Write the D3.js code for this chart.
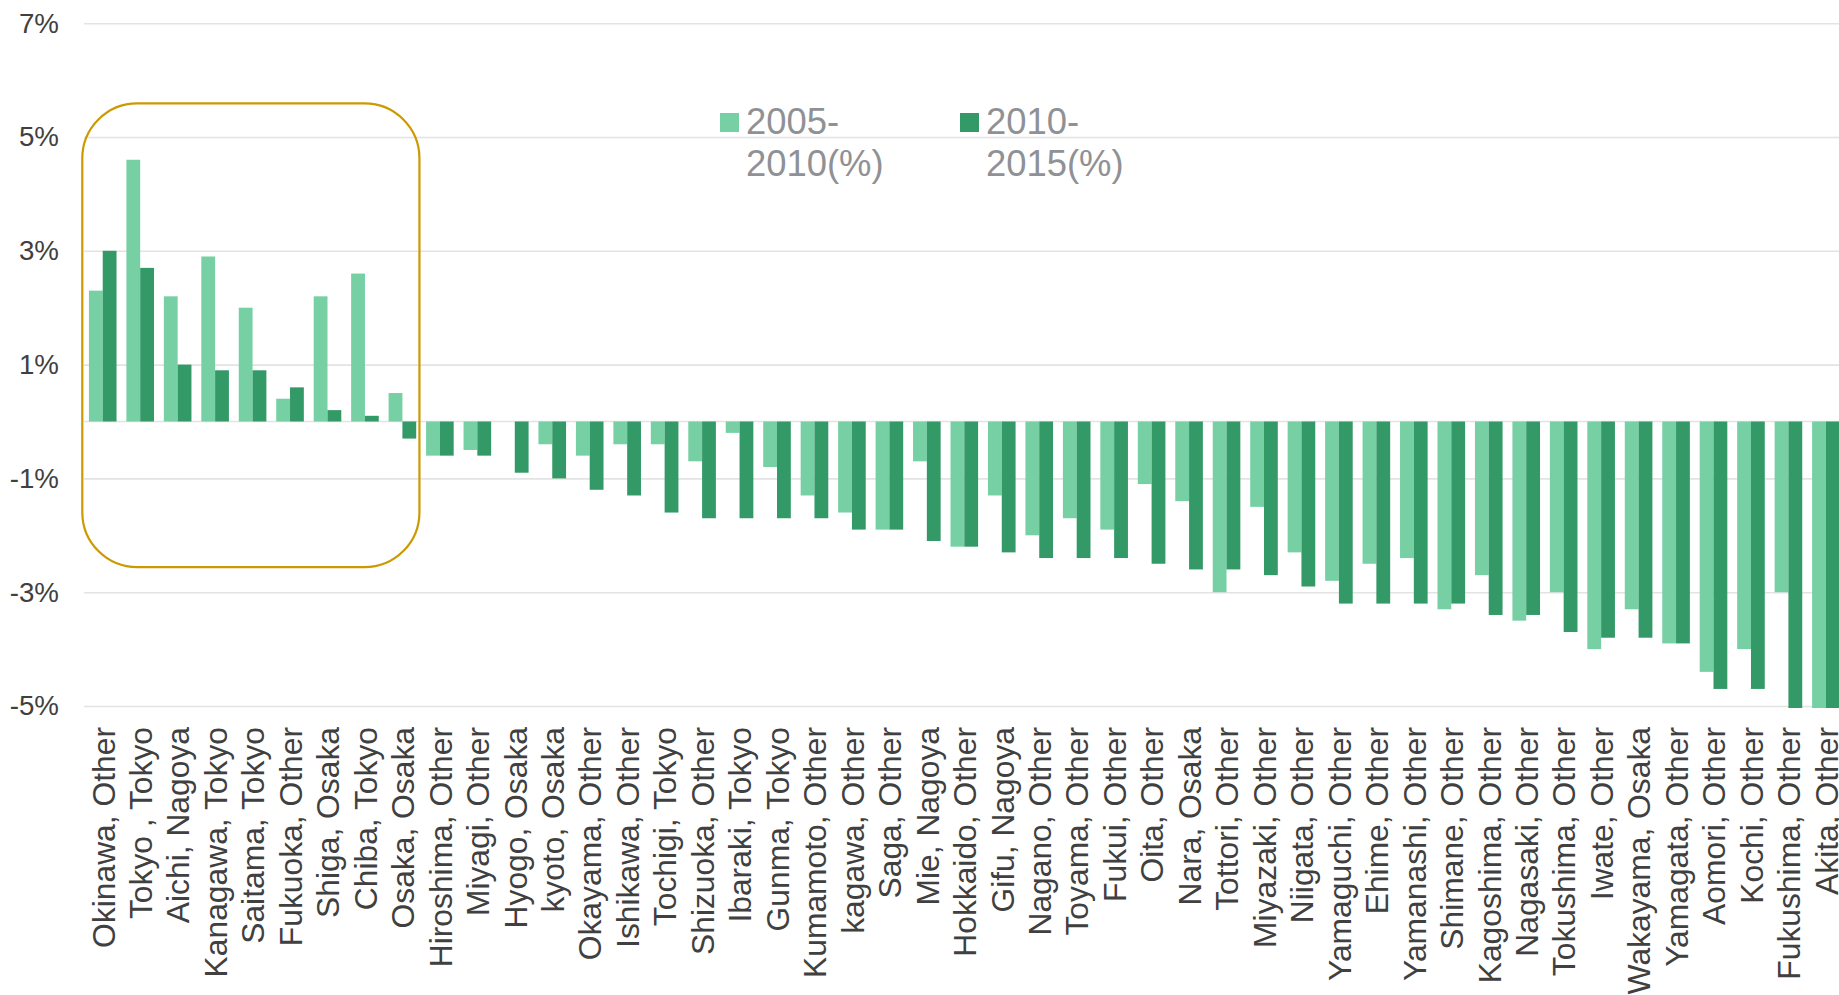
<!DOCTYPE html>
<html>
<head>
<meta charset="utf-8">
<script src="https://cdn.jsdelivr.net/npm/d3@7"></script>
<style>
  body { margin: 0; background: #fff; }
  svg { display: block; font-family: "Liberation Sans", Arial, sans-serif; }
</style>
</head>
<body>
<script>
var categories = ["Okinawa, Other", "Tokyo , Tokyo", "Aichi, Nagoya", "Kanagawa, Tokyo", "Saitama, Tokyo",
  "Fukuoka, Other", "Shiga, Osaka", "Chiba, Tokyo", "Osaka, Osaka", "Hiroshima, Other", "Miyagi, Other",
  "Hyogo, Osaka", "kyoto, Osaka", "Okayama, Other", "Ishikawa, Other", "Tochigi, Tokyo", "Shizuoka, Other",
  "Ibaraki, Tokyo", "Gunma, Tokyo", "Kumamoto, Other", "kagawa, Other", "Saga, Other", "Mie, Nagoya",
  "Hokkaido, Other", "Gifu, Nagoya", "Nagano, Other", "Toyama, Other", "Fukui, Other", "Oita, Other",
  "Nara, Osaka", "Tottori, Other", "Miyazaki, Other", "Niigata, Other", "Yamaguchi, Other", "Ehime, Other",
  "Yamanashi, Other", "Shimane, Other", "Kagoshima, Other", "Nagasaki, Other", "Tokushima, Other",
  "Iwate, Other", "Wakayama, Osaka", "Yamagata, Other", "Aomori, Other", "Kochi, Other",
  "Fukushima, Other", "Akita, Other"];

var v2005 = [2.3, 4.6, 2.2, 2.9, 2.0, 0.4, 2.2, 2.6, 0.5, -0.6, -0.5, 0.0, -0.4, -0.6, -0.4, -0.4, -0.7,
  -0.2, -0.8, -1.3, -1.6, -1.9, -0.7, -2.2, -1.3, -2.0, -1.7, -1.9, -1.1, -1.4, -3.0, -1.5, -2.3, -2.8,
  -2.5, -2.4, -3.3, -2.7, -3.5, -3.0, -4.0, -3.3, -3.9, -4.4, -4.0, -3.0, -5.2];

var v2010 = [3.0, 2.7, 1.0, 0.9, 0.9, 0.6, 0.2, 0.1, -0.3, -0.6, -0.6, -0.9, -1.0, -1.2, -1.3, -1.6, -1.7,
  -1.7, -1.7, -1.7, -1.9, -1.9, -2.1, -2.2, -2.3, -2.4, -2.4, -2.4, -2.5, -2.6, -2.6, -2.7, -2.9, -3.2,
  -3.2, -3.2, -3.2, -3.4, -3.4, -3.7, -3.8, -3.8, -3.9, -4.7, -4.7, -5.7, -5.8];

var seriesNames = ["2005-2010(%)", "2010-2015(%)"];
var seriesColors = ["#76d0a4", "#339966"];
var yTicks = [-5, -3, -1, 1, 3, 5, 7];

// highlighted group: first nine categories, value span of the box
var boxFrom = "Okinawa, Other", boxTo = "Osaka, Osaka", boxTop = 5.59, boxBottom = -2.56;

var width = 1839, height = 995;
var left = 84, band = 37.46;

var svg = d3.select("body").append("svg")
  .attr("width", width)
  .attr("height", height);

var x = d3.scaleBand()
  .domain(categories)
  .range([left, left + band * categories.length]);

var xs = d3.scaleBand()
  .domain([0, 1])
  .range([x.bandwidth() * 0.1316, x.bandwidth() * 0.8684]);

var y = d3.scaleLinear()
  .domain([-5, 7])
  .range([706, 23.2]);

// gridlines
svg.append("g")
  .attr("transform", "translate(" + left + ",0)")
  .call(d3.axisLeft(y).tickValues(yTicks).tickSize(-(width - left)).tickFormat(""))
  .call(function (g) { g.select(".domain").remove(); })
  .selectAll("line")
    .attr("stroke", "#e3e3e3")
    .attr("stroke-width", 1.6);

// zero line
svg.append("line")
  .attr("x1", left).attr("x2", width)
  .attr("y1", y(0)).attr("y2", y(0))
  .attr("stroke", "#e3e3e3")
  .attr("stroke-width", 1.6);

// y labels
svg.append("g")
  .attr("transform", "translate(" + left + ",0)")
  .call(d3.axisLeft(y).tickValues(yTicks).tickSize(0).tickPadding(25).tickFormat(function (d) { return d + "%"; }))
  .call(function (g) { g.select(".domain").remove(); })
  .selectAll("text")
    .attr("fill", "#404040")
    .style("font-size", "27.7px");

svg.append("clipPath")
  .attr("id", "plot-clip")
  .append("rect")
    .attr("x", left).attr("y", y(7) - 2)
    .attr("width", width - left)
    .attr("height", y(-5) - y(7) + 4);

var rows = categories.map(function (c, i) { return { name: c, values: [v2005[i], v2010[i]] }; });

var groups = svg.append("g")
  .attr("clip-path", "url(#plot-clip)")
  .selectAll("g")
  .data(rows)
  .enter()
  .append("g")
    .attr("transform", function (d) { return "translate(" + x(d.name) + ",0)"; });

groups.selectAll("rect")
  .data(function (d) { return d.values; })
  .enter()
  .append("rect")
    .attr("x", function (d, i) { return xs(i); })
    .attr("width", xs.bandwidth())
    .attr("y", function (d) { return y(Math.max(0, d)); })
    .attr("height", function (d) { return Math.abs(y(d) - y(0)); })
    .attr("fill", function (d, i) { return seriesColors[i]; });

// x labels, rotated
svg.append("g")
  .attr("transform", "translate(0," + y(-5) + ")")
  .call(d3.axisBottom(x).tickSize(0).tickPadding(0))
  .call(function (g) { g.select(".domain").remove(); })
  .selectAll("text")
    .attr("fill", "#404040")
    .style("font-size", "31.8px")
    .attr("text-anchor", "end")
    .attr("y", 0)
    .attr("dy", "0.37em")
    .attr("transform", "translate(0,21) rotate(-90)");

// rounded highlight box
svg.append("rect")
  .attr("x", x(boxFrom) - 1.7)
  .attr("y", y(boxTop))
  .attr("width", x(boxTo) + x.bandwidth() - x(boxFrom))
  .attr("height", y(boxBottom) - y(boxTop))
  .attr("rx", 55)
  .attr("ry", 55)
  .attr("fill", "none")
  .attr("stroke", "#cc9900")
  .attr("stroke-width", 2.2);

// legend
var legend = svg.append("g")
  .selectAll("g")
  .data(seriesNames)
  .enter()
  .append("g")
    .attr("transform", function (d, i) { return "translate(" + (720 + i * 240) + ",113)"; });

legend.append("rect")
  .attr("width", 19)
  .attr("height", 19)
  .attr("fill", function (d, i) { return seriesColors[i]; });

legend.append("text")
  .attr("fill", "#8f9194")
  .style("font-size", "36.4px")
  .selectAll("tspan")
  .data(function (d) { return [d.slice(0, 5), d.slice(5)]; })
  .enter()
  .append("tspan")
    .attr("x", 26)
    .attr("y", function (d, i) { return 20.5 + i * 42.7; })
    .text(function (d) { return d; });
</script>
</body>
</html>
